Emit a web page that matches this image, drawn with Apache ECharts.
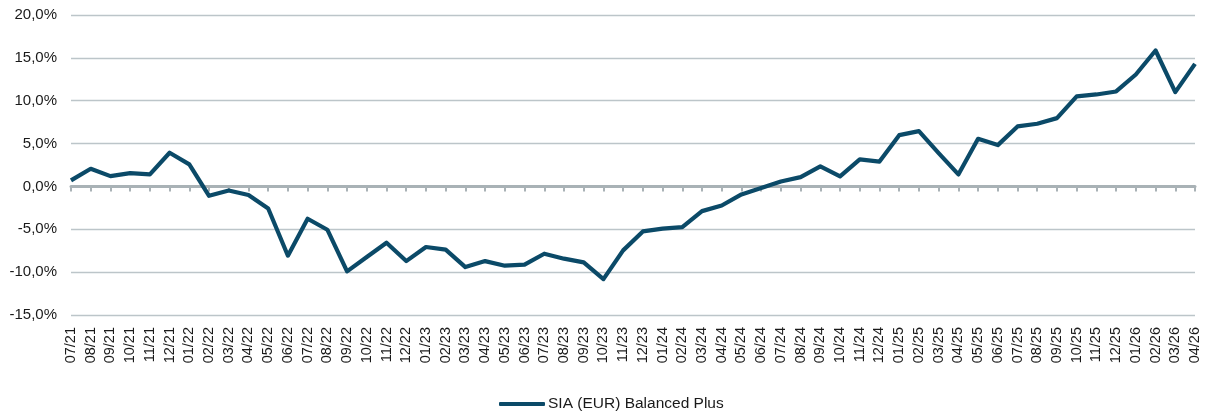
<!DOCTYPE html>
<html>
<head>
<meta charset="utf-8">
<script src="https://cdn.jsdelivr.net/npm/echarts@6/dist/echarts.min.js"></script>
<style>
html,body{margin:0;padding:0;background:#fff;}
#c{width:1207px;height:414px;}
</style>
</head>
<body>
<div id="c"></div>
<script>
const categories = ["07/21","08/21","09/21","10/21","11/21","12/21",
"01/22","02/22","03/22","04/22","05/22","06/22","07/22","08/22","09/22","10/22","11/22","12/22",
"01/23","02/23","03/23","04/23","05/23","06/23","07/23","08/23","09/23","10/23","11/23","12/23",
"01/24","02/24","03/24","04/24","05/24","06/24","07/24","08/24","09/24","10/24","11/24","12/24",
"01/25","02/25","03/25","04/25","05/25","06/25","07/25","08/25","09/25","10/25","11/25","12/25",
"01/26","02/26","03/26","04/26"];
const seriesName = "SIA (EUR) Balanced Plus";
const seriesValues = [0.7,2.06,1.2,1.55,1.4,3.93,
2.57,-1.09,-0.47,-1.0,-2.57,-8.08,-3.77,-5.05,-9.91,-8.24,-6.57,-8.71,
-7.07,-7.38,-9.41,-8.71,-9.25,-9.13,-7.85,-8.43,-8.86,-10.81,-7.46,-5.25,
-4.93,-4.74,-2.88,-2.22,-0.93,-0.19,0.58,1.09,2.33,1.17,3.15,2.9,
5.98,6.45,3.89,1.4,5.56,4.82,7.0,7.31,7.97,10.5,10.73,11.08,
13.06,15.86,11.0,14.3];
const yTicks = {min:-15, max:20, interval:5};

const chart = echarts.init(document.getElementById('c'), null, {renderer:'canvas'});
const font = 'Arial, "Liberation Sans", sans-serif';
chart.setOption({
  animation:false,
  backgroundColor:'#ffffff',
  grid:{left:71, right:12, top:15, bottom:99, containLabel:false},
  legend:{
    top:396, left:499, padding:0,
    icon:'roundRect', itemWidth:46, itemHeight:4, itemGap:10,
    textStyle:{fontFamily:font, fontSize:15.5, color:'#1a1a1a', padding:[0,0,0,-2]},
    data:[seriesName]
  },
  xAxis:[{
    type:'category', data:categories, boundaryGap:false, position:'bottom',
    axisLine:{show:false, onZero:false},
    axisTick:{show:false},
    splitLine:{show:false},
    axisLabel:{rotate:90, interval:0, margin:12, fontFamily:font, fontSize:14.5, color:'#1a1a1a'}
  },{
    type:'category', data:categories, boundaryGap:false, position:'top',
    axisLine:{show:true, onZero:true, lineStyle:{color:'#a9b2b6', width:3}},
    axisTick:{show:true, inside:true, length:5, interval:0, lineStyle:{color:'#a9b2b6', width:2}},
    axisLabel:{show:false},
    splitLine:{show:false}
  }],
  yAxis:{
    type:'value', min:yTicks.min, max:yTicks.max, interval:yTicks.interval,
    axisLine:{show:false}, axisTick:{show:false},
    splitLine:{show:true, lineStyle:{color:'#bcc5c9', width:1.3}},
    axisLabel:{margin:14, fontFamily:font, fontSize:15, color:'#1a1a1a',
      formatter:function(v){return v.toFixed(1).replace('.',',')+'%';}}
  },
  series:[{
    name:seriesName, type:'line', data:seriesValues, xAxisIndex:0,
    showSymbol:false, symbol:'none',
    lineStyle:{color:'#0b4a68', width:4.2, join:'round'},
    itemStyle:{color:'#0b4a68'},
    z:5
  }]
});
</script>
</body>
</html>
